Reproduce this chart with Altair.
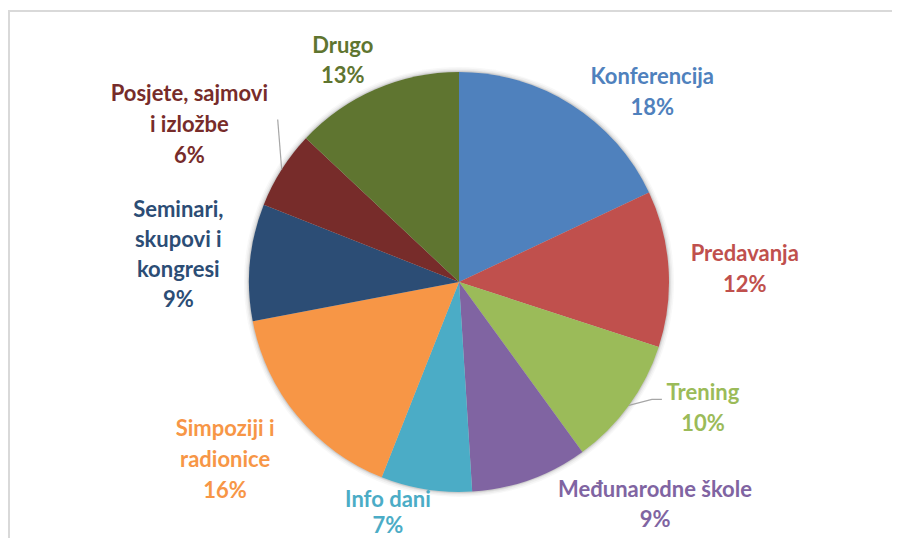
import math
import altair as alt
import pandas as pd

# ---- data ----
categories = ["Konferencija", "Predavanja", "Trening", "Međunarodne škole", "Info dani",
              "Simpoziji i radionice", "Seminari, skupovi i kongresi",
              "Posjete, sajmovi i izložbe", "Drugo"]
label_text = ["Konferencija", "Predavanja", "Trening", "Međunarodne škole", "Info dani",
              "Simpoziji i\nradionice", "Seminari,\nskupovi i\nkongresi",
              "Posjete, sajmovi\ni izložbe", "Drugo"]
values = [18, 12, 10, 9, 7, 16, 9, 6, 13]
colors = ["#4F81BD", "#C0504D", "#9BBB59", "#8064A2", "#4BACC6",
          "#F79646", "#2C4D75", "#772C2A", "#5F7530"]

# ---- layout ----
W, H = 884, 530
CX, CY, R = 451, 274, 210
label_line_h = [31, 31, 31, 30, 26, 31, 30, 31, 30]
label_nudge_deg = [13.1, 1.1, -8.5, -21.5, 8.1, 2.3, 0.1, -2.2, -4.3]
label_radius = [271, 286, 275, 297, 241.7, 294, 282, 312, 250]

total = sum(values)
cum = 0
mids = []
for v in values:
    mids.append((cum + v / 2) / total * 360)
    cum += v

rows = []
for i, (c, t, v) in enumerate(zip(categories, label_text, values)):
    a = math.radians(mids[i] + label_nudge_deg[i])
    txt = f"{t}\n{round(v / total * 100)}%"
    n = txt.count("\n") + 1
    rows.append({
        "idx": i, "category": c, "value": v,
        "label": txt, "lh": label_line_h[i],
        "lx": CX + label_radius[i] * math.sin(a),
        "ly": CY - label_radius[i] * math.cos(a) - (n - 1) * label_line_h[i] / 2,
    })
df = pd.DataFrame(rows)

# leader lines (Trening, Posjete): start at slice edge on mid-angle
leaders = []
for i, pts in [(2, [(0, 0), (23, -6), (33, -6)]), (7, [(0, 0), (-4, -50)])]:
    a = math.radians(mids[i])
    sx, sy = CX + R * math.sin(a), CY - R * math.cos(a)
    for k, (dx, dy) in enumerate(pts):
        leaders.append({"id": i, "k": k, "x": sx + dx, "y": sy + dy})
ldf = pd.DataFrame(leaders)

color_scale = alt.Scale(domain=categories, range=colors)

one = pd.DataFrame({"a": [0]})
frame_top = alt.Chart(one).mark_rule(stroke="#d9d9d9", strokeWidth=2).encode(
    x=alt.value(0), x2=alt.value(W), y=alt.value(3))
frame_left = alt.Chart(one).mark_rule(stroke="#d9d9d9", strokeWidth=2).encode(
    x=alt.value(1), y=alt.value(2), y2=alt.value(H))

shadow_layers = []
for rr, op in [(215, 0.05), (213.5, 0.08), (212, 0.12), (211, 0.2)]:
    shadow_layers.append(
        alt.Chart(one).mark_circle(fill="#7f7f7f", opacity=op, strokeWidth=0)
        .encode(x=alt.value(CX), y=alt.value(CY), size=alt.value((2 * rr) ** 2))
    )

pie = alt.Chart(df).mark_arc(outerRadius=R).encode(
    theta=alt.Theta("value:Q", stack=True),
    order=alt.Order("idx:Q"),
    color=alt.Color("category:N", scale=color_scale, legend=None),
    x=alt.value(CX), y=alt.value(CY),
)

lines = alt.Chart(ldf).mark_line(color="#a6a6a6", strokeWidth=1.2).encode(
    x=alt.X("x:Q", scale=None), y=alt.Y("y:Q", scale=None),
    detail="id:N", order="k:Q",
)

label_layers = []
for lh in sorted(set(label_line_h)):
    label_layers.append(
        alt.Chart(df).transform_filter(alt.datum.lh == lh).mark_text(
            font="Lato", fontWeight="bold", fontSize=22, lineBreak="\n", lineHeight=lh,
            align="center", baseline="middle",
        ).encode(
            x=alt.X("lx:Q", scale=None), y=alt.Y("ly:Q", scale=None),
            text="label:N",
            color=alt.Color("category:N", scale=color_scale, legend=None),
        )
    )

chart = alt.layer(frame_top, frame_left, *shadow_layers, pie, lines, *label_layers).properties(
    width=W, height=H, padding=0, autosize=alt.AutoSizeParams(type="none")
).configure_view(stroke=None)

chart.save("out.html", embed_options={"renderer": "svg", "actions": False})
